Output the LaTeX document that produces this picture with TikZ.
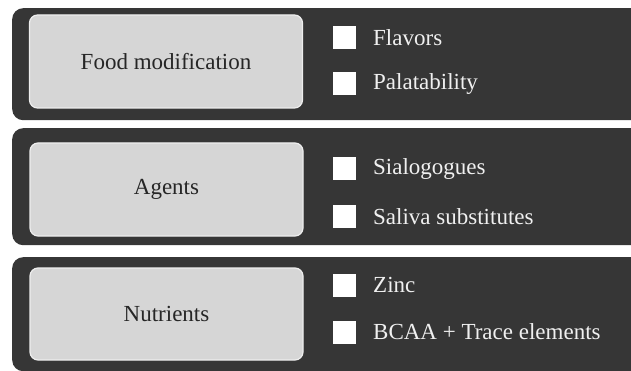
\documentclass[tikz,border=0pt]{standalone}
\usepackage{fontspec}
\setmainfont{Liberation Serif}
\definecolor{bandgray}{HTML}{363636}
\definecolor{boxgray}{HTML}{D6D6D6}
\definecolor{boxedge}{HTML}{EEEEEE}
\definecolor{itemtext}{HTML}{F0F0F0}
\tikzset{
  band/.style={draw=none, fill=bandgray, rounded corners=11pt, anchor=north west, minimum width=660pt, inner sep=0pt},
  labelbox/.style={draw=boxedge, line width=1.2pt, fill=boxgray, rounded corners=8pt, minimum width=273pt, inner sep=0pt, font=\fontsize{23}{27}\selectfont, text=black!85},
  bullet/.style={fill=white, draw=none, minimum width=23pt, minimum height=23pt, inner sep=0pt},
  item/.style={anchor=west, inner sep=0pt, text=itemtext, font=\fontsize{23}{27}\selectfont}
}
\begin{document}
\begin{tikzpicture}[x=1pt,y=-1pt]
\useasboundingbox (0,0) rectangle (631,371);
\begin{scope}
\clip (0,0) rectangle (631,371);
% band 1
\node[band, minimum height=112pt] (band1) at (12,8) {};
\node[labelbox, minimum height=93pt] (lab1) at (166,61.5) {Food modification};
\node[bullet] (sq11) at (344,38) {};
\node[item] (it11) at (373,38) {Flavors};
\node[bullet] (sq12) at (344,84) {};
\node[item] (it12) at (373,84) {Palatability};
% band 2
\node[band, minimum height=117pt] (band2) at (12,128) {};
\node[labelbox, minimum height=93pt] (lab2) at (166.5,189.5) {Agents};
\node[bullet] (sq21) at (344,169) {};
\node[item] (it21) at (373,169) {Sialogogues};
\node[bullet] (sq22) at (344,217) {};
\node[item] (it22) at (373,217) {Saliva substitutes};
% band 3
\node[band, minimum height=114pt] (band3) at (12,257) {};
\node[labelbox, minimum height=92pt] (lab3) at (166.5,314) {Nutrients};
\node[bullet] (sq31) at (344,285) {};
\node[item] (it31) at (373,285) {Zinc};
\node[bullet] (sq32) at (344,332) {};
\node[item] (it32) at (373,332) {BCAA + Trace elements};
\end{scope}
\end{tikzpicture}
\end{document}
